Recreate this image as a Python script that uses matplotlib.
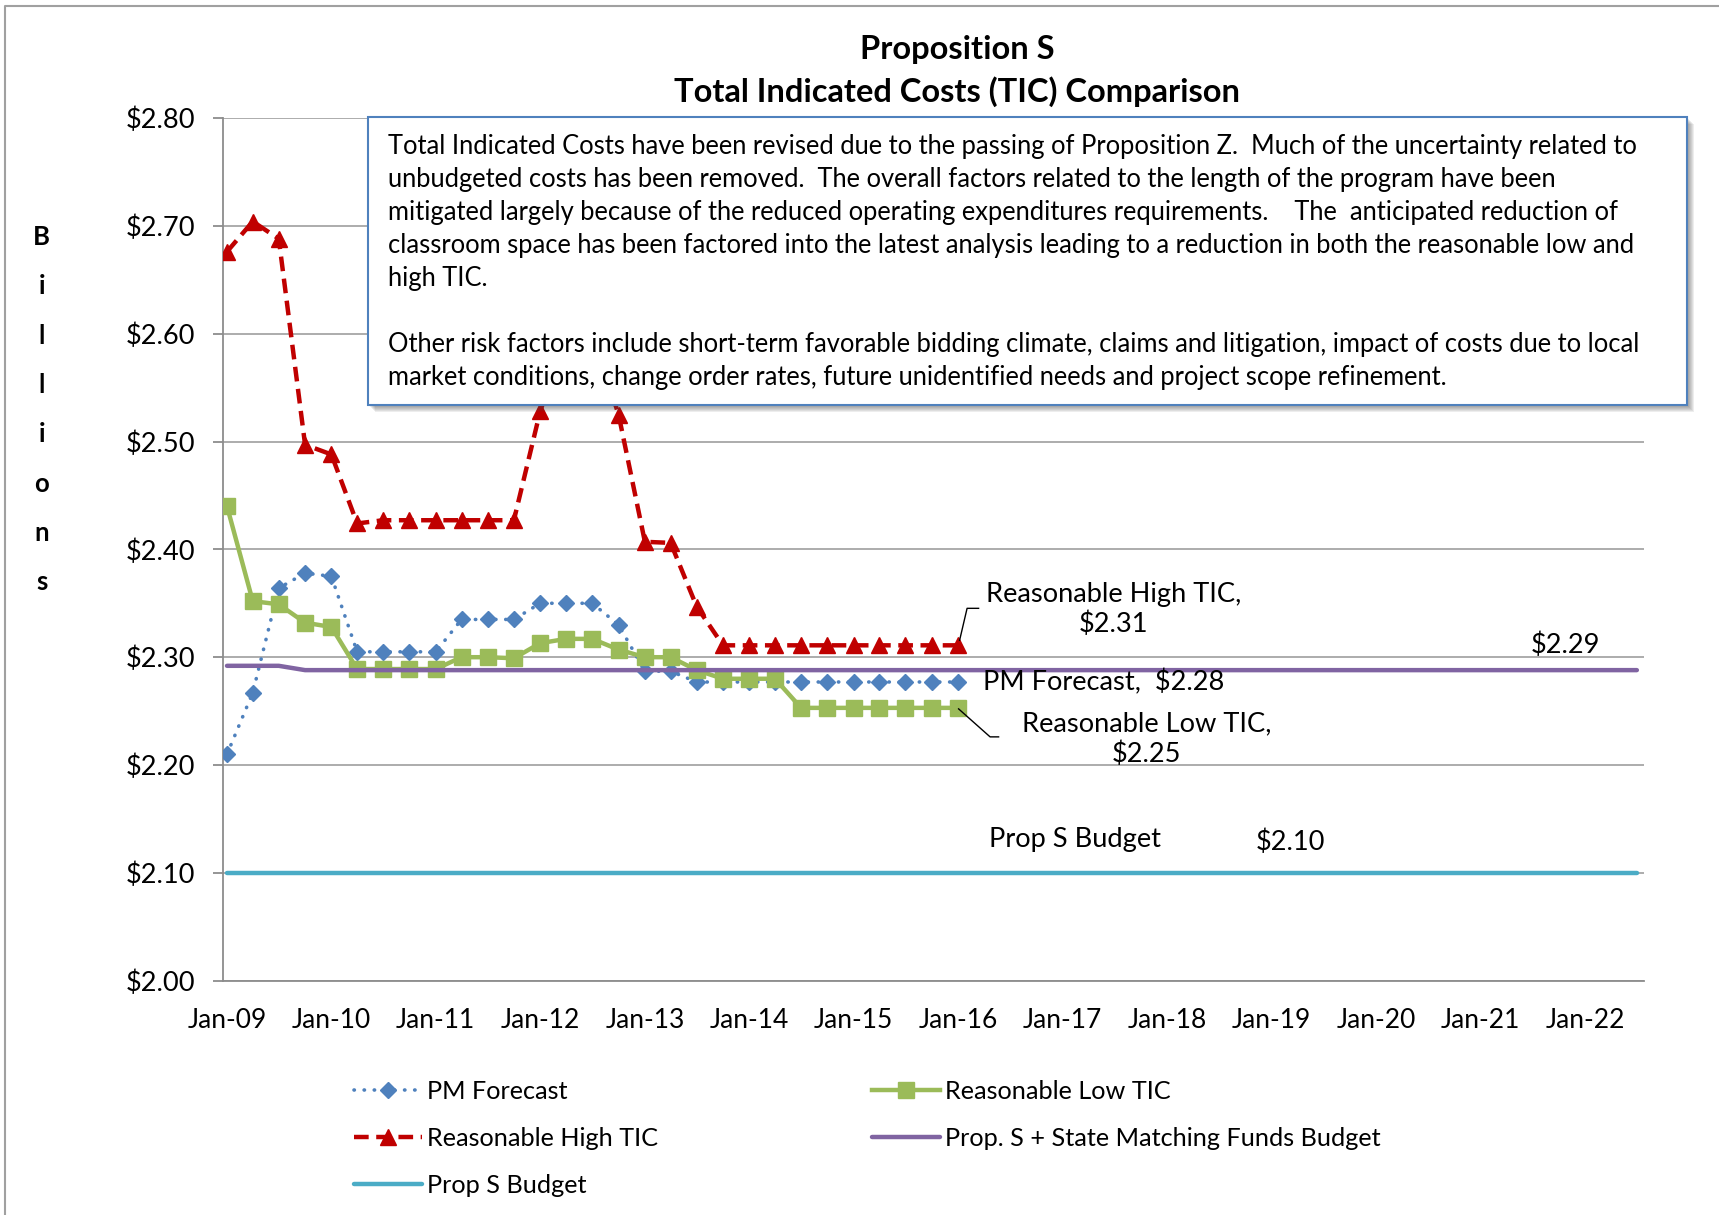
import matplotlib

matplotlib.use("Agg")

import matplotlib.dates as mdates
import matplotlib.pyplot as plt
import pandas as pd
from matplotlib.lines import Line2D
from matplotlib.patches import Rectangle
from matplotlib.transforms import IdentityTransform

plt.rcParams["font.family"] = ["Lato", "DejaVu Sans"]

# quarterly readings, Jan-09 .. Jan-16
quarters = pd.date_range("2009-01-01", periods=29, freq="QS")
# budget lines run on to Jul-22
budget_quarters = pd.date_range("2009-01-01", periods=55, freq="QS")

pm_forecast = [
    2.210, 2.267, 2.364, 2.378, 2.375, 2.305, 2.305, 2.305, 2.305, 2.335,
    2.335, 2.335, 2.350, 2.350, 2.350, 2.330, 2.287, 2.287, 2.277, 2.277,
    2.277, 2.277, 2.277, 2.277, 2.277, 2.277, 2.277, 2.277, 2.277,
]
reasonable_low = [
    2.440, 2.352, 2.349, 2.332, 2.328, 2.289, 2.289, 2.289, 2.289, 2.300,
    2.300, 2.299, 2.313, 2.317, 2.317, 2.307, 2.300, 2.300, 2.288, 2.280,
    2.280, 2.280, 2.253, 2.253, 2.253, 2.253, 2.253, 2.253, 2.253,
]
reasonable_high = [
    2.676, 2.704, 2.688, 2.497, 2.488, 2.424, 2.427, 2.427, 2.427, 2.427,
    2.427, 2.427, 2.528, 2.600, 2.600, 2.525, 2.407, 2.406, 2.347, 2.311,
    2.311, 2.311, 2.311, 2.311, 2.311, 2.311, 2.311, 2.311, 2.311,
]
matching_budget = [2.292] * 3 + [2.288] * 52
prop_s_budget = [2.10] * 55

y_ticks = [2.0, 2.1, 2.2, 2.3, 2.4, 2.5, 2.6, 2.7, 2.8]

labels = [
    "PM Forecast",
    "Reasonable Low TIC",
    "Reasonable High TIC",
    "Prop. S + State Matching Funds Budget",
    "Prop S Budget",
]

note_lines = [
    "Total Indicated Costs have been revised due to the passing of Proposition Z.  Much of the uncertainty related to",
    "unbudgeted costs has been removed.  The overall factors related to the length of the program have been",
    "mitigated largely because of the reduced operating expenditures requirements.    The  anticipated reduction of",
    "classroom space has been factored into the latest analysis leading to a reduction in both the reasonable low and",
    "high TIC.",
    "",
    "Other risk factors include short-term favorable bidding climate, claims and litigation, impact of costs due to local",
    "market conditions, change order rates, future unidentified needs and project scope refinement.",
]

BLUE = "#4f81bd"
GREEN = "#9bbb59"
RED = "#c00000"
PURPLE = "#8064a2"
CYAN = "#4bacc6"
GRID = "#a6a6a6"

W, H = 1719, 1215
fig = plt.figure(figsize=(W / 100, H / 100), dpi=100)
ax = fig.add_axes([222.7 / W, 1 - 980.7 / H, (1644 - 222.7) / W, (980.7 - 118) / H])

h_pm, = ax.plot(quarters, pm_forecast, color=BLUE, lw=2.6, ls=(0, (0.1, 2.7)),
                dash_capstyle="round", marker="D", ms=8.5, zorder=3)
h_low, = ax.plot(quarters, reasonable_low, color=GREEN, lw=3.2, marker="s", ms=11.5, zorder=4)
h_high, = ax.plot(quarters, reasonable_high, color=RED, lw=3.2, ls=(0, (3.3, 1.7)),
                  marker="^", ms=12, zorder=5)
h_match, = ax.plot(budget_quarters, matching_budget, color=PURPLE, lw=3.2,
                   solid_capstyle="round", zorder=6)
h_prop, = ax.plot(budget_quarters, prop_s_budget, color=CYAN, lw=3.2,
                  solid_capstyle="round", zorder=6)

ax.set_xlim(pd.Timestamp("2008-12-17"), pd.Timestamp("2022-07-26"))
ax.set_ylim(2.0, 2.8)
ax.set_yticks(y_ticks)
ax.set_yticklabels([f"${v:.2f}" for v in y_ticks])
ax.xaxis.set_major_locator(mdates.YearLocator())
ax.xaxis.set_major_formatter(mdates.DateFormatter("%b-%y"))
ax.grid(axis="y", color=GRID, lw=1.3)
ax.set_axisbelow(True)
for side in ("top", "right"):
    ax.spines[side].set_visible(False)
for side in ("left", "bottom"):
    ax.spines[side].set_color("#8c8c8c")
    ax.spines[side].set_linewidth(1.3)
ax.tick_params(axis="y", length=7, width=1.3, color="#8c8c8c", pad=12.5, labelsize=19.6)
ax.tick_params(axis="x", length=0, pad=19.5, labelsize=19)

# stacked axis title
for k, letter in enumerate("Billions"):
    fig.text(41.7 / W, 1 - (237 + k * 49.3) / H, letter, ha="center", va="center",
             fontsize=18.5, fontweight="bold")

fig.text(0.557, 1 - 50 / H, "Proposition S", ha="center", va="center",
         fontsize=23.5, fontweight="bold")
fig.text(0.557, 1 - 92 / H, "Total Indicated Costs (TIC) Comparison", ha="center",
         va="center", fontsize=23.5, fontweight="bold")

# series labels
label_kw = dict(transform=ax.transAxes, va="center", fontsize=19.6, zorder=7)
ax.text(0.627, 0.4303, "Reasonable High TIC,\n$2.31", ha="center", linespacing=1.25,
        **label_kw)
ax.text(0.5352, 0.3464, "PM Forecast,  $2.28", ha="left", **label_kw)
ax.text(0.6501, 0.2803, "Reasonable Low TIC,\n$2.25", ha="center", linespacing=1.25,
        **label_kw)
ax.text(0.9448, 0.3883, "$2.29", ha="center", **label_kw)
ax.text(0.5391, 0.1633, "Prop S Budget", ha="left", **label_kw)
ax.text(0.7265, 0.1608, "$2.10", ha="left", **label_kw)


def leader(when, value, offsets):
    px, py = ax.transData.transform((mdates.date2num(when), value))
    xs = [px + dx for dx, dy in offsets]
    ys = [py + dy for dx, dy in offsets]
    fig.add_artist(Line2D(xs, ys, color="black", lw=1.0, transform=IdentityTransform(),
                          zorder=7))


leader(quarters[-1], reasonable_high[-1], [(1.5, 5), (9, 37), (20.5, 37)])
leader(quarters[-1], reasonable_low[-1], [(0.5, -1), (32, -29), (40.5, -29)])

# note box with soft shadow
bx0, bx1, by0, by1 = 368, 1687, 117, 405
for k in range(7, 0, -1):
    fig.add_artist(Rectangle(((bx0 + k) / W, 1 - (by1 + k) / H), (bx1 - bx0) / W,
                             (by1 - by0) / H, transform=fig.transFigure,
                             facecolor="#404040", edgecolor="none", alpha=0.09, zorder=8))
fig.add_artist(Rectangle((bx0 / W, 1 - by1 / H), (bx1 - bx0) / W, (by1 - by0) / H,
                         transform=fig.transFigure, facecolor="white", edgecolor=BLUE,
                         lw=1.5, zorder=9))
for i, line in enumerate(note_lines):
    fig.text(388 / W, 1 - (146.5 + i * 33.07) / H, line, ha="left", va="center",
             fontsize=18.4, zorder=10)

# chart frame
fig.add_artist(Line2D([5 / W, 5 / W, 1.0], [0.0, 1 - 6 / H, 1 - 6 / H], color="#a0a0a0",
                      lw=1.5, transform=fig.transFigure))

legend_kw = dict(loc="upper left", frameon=False, fontsize=18.2, handlelength=2.7,
                 handletextpad=0.2, labelspacing=0.94, borderpad=0, borderaxespad=0)
fig.legend([h_pm, h_high, h_prop], [labels[0], labels[2], labels[4]],
           bbox_to_anchor=(354 / W, 1 - 1080 / H), **legend_kw)
fig.legend([h_low, h_match], [labels[1], labels[3]],
           bbox_to_anchor=(872 / W, 1 - 1080 / H), **legend_kw)

fig.savefig("out.png", dpi=100)
